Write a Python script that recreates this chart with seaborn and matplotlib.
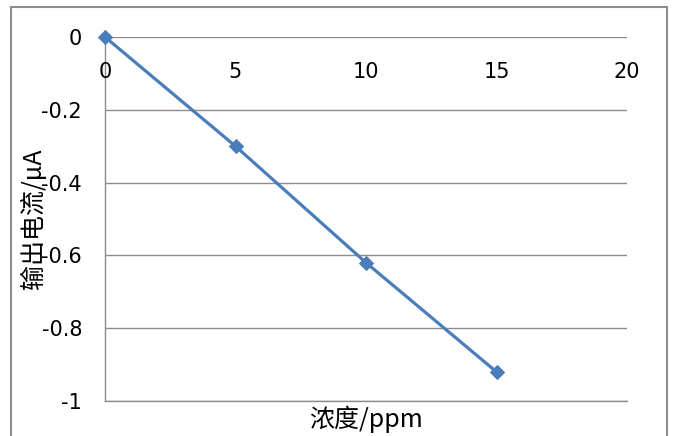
import matplotlib
matplotlib.use('Agg')
import matplotlib.pyplot as plt
import seaborn as sns
import pandas as pd
from matplotlib.patches import Rectangle

# data
conc = [0, 5, 10, 15]
current = [0, -0.30, -0.62, -0.92]
x_ticks = [0, 5, 10, 15, 20]
y_ticks = [0, -0.2, -0.4, -0.6, -0.8, -1]
y_tick_labels = ['0', '-0.2', '-0.4', '-0.6', '-0.8', '-1']

sns.set_style('white')
plt.rcParams['font.family'] = ['Noto Sans CJK SC', 'DejaVu Sans']

df = pd.DataFrame({'conc': conc, 'current': current})

fig = plt.figure(figsize=(6.75, 4.36), dpi=100)
ax = fig.add_axes([105 / 675, 1 - 401 / 436, (627 - 105) / 675, (401 - 37) / 436])

# outer chart border like excel
fig.patches.append(Rectangle((11 / 675, -0.05), (667 - 11) / 675, 1.05 - 7 / 436,
                             transform=fig.transFigure, fill=False,
                             edgecolor='#8c8c8c', linewidth=1.5))

sns.lineplot(data=df, x='conc', y='current', ax=ax, color='#4a7ebb', lw=2.3,
             marker='D', markersize=7, markeredgecolor='#4a7ebb', zorder=3,
             clip_on=False)

ax.set_xlim(0, 20)
ax.set_ylim(-1, 0)
ax.set_xticks(x_ticks)
ax.set_yticks(y_ticks)
ax.set_yticklabels(y_tick_labels, family='DejaVu Sans')
ax.grid(axis='y', color='#8c8c8c', linewidth=1)
ax.grid(axis='x', visible=False)

for s in ['top', 'right']:
    ax.spines[s].set_visible(False)
for s in ['left', 'bottom']:
    ax.spines[s].set_color('#8c8c8c')
    ax.spines[s].set_linewidth(1)

# x axis crosses at y=0, labels just under it
ax.tick_params(axis='both', length=0, labelsize=15, colors='black')
ax.tick_params(axis='x', labeltop=False, labelbottom=False)
for x in x_ticks:
    ax.text(x, -0.095, str(x), ha='center', va='center', fontsize=15,
            family='DejaVu Sans', color='black')
ax.tick_params(axis='y', pad=16.5)

ax.set_xlabel('浓度/ppm', fontsize=18, labelpad=3, color='black')
ax.set_ylabel('输出电流/μA', fontsize=18, color='black')
ax.yaxis.set_label_coords(-0.111, 0.5)

fig.savefig('out.png', dpi=100)
